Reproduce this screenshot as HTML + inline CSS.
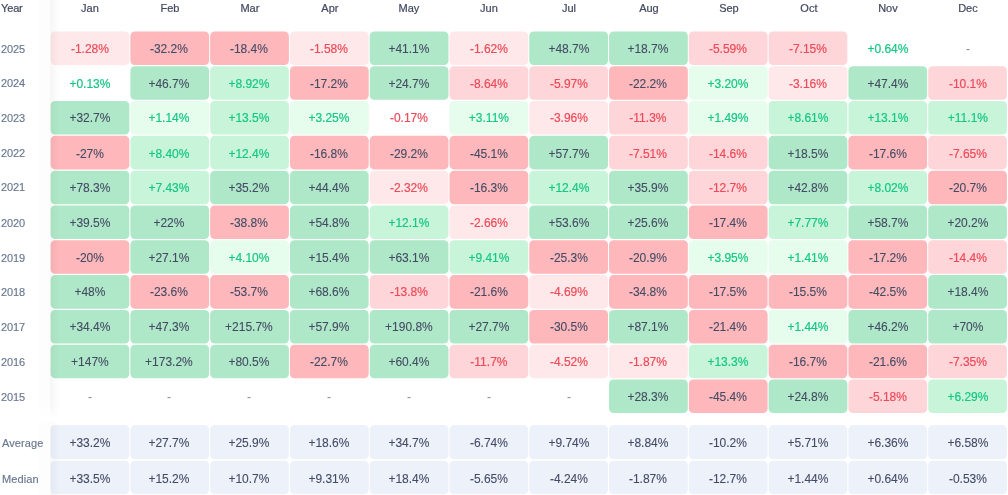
<!DOCTYPE html>
<html><head><meta charset="utf-8"><title>Monthly returns</title><style>
*{margin:0;padding:0;box-sizing:border-box}
html,body{width:1008px;height:495px;overflow:hidden;background:#fff}
body{position:relative;font-family:"Liberation Sans",sans-serif}
.bg{position:absolute;left:0;top:0;z-index:1}
.t{position:absolute;text-align:center;font-size:12px;line-height:14px;white-space:nowrap;will-change:transform;z-index:3}
.h{position:absolute;top:2px;font-size:11px;line-height:13px;color:#40475f;white-space:nowrap;will-change:transform;-webkit-text-stroke:0.2px #40475f;z-index:3}
.y{position:absolute;left:1.2px;letter-spacing:-0.15px;font-size:11px;line-height:13px;color:#67778f;white-space:nowrap;will-change:transform;-webkit-text-stroke:0.15px #67778f;z-index:3}
.tn{color:#7e869b}
.tg{color:#16c784;-webkit-text-stroke:0.2px #16c784}
.tr{color:#ec4b59;-webkit-text-stroke:0.2px #ec4b59}
.td{color:#434b63;-webkit-text-stroke:0.1px #434b63}
.g1{background:#e6fcec}
.g2{background:#c8f5da}
.g3{background:#afe8c8}
.r1{background:#fee8e9}
.r2{background:#fed5d8}
.r3{background:#feb7bb}
.a{background:#edf1fa}
.sh{position:absolute;left:50px;width:10px;z-index:2;background:linear-gradient(90deg,rgba(0,0,0,0.035) 0%,rgba(0,0,0,0.018) 40%,rgba(0,0,0,0.006) 75%,rgba(0,0,0,0) 100%)}
.sh2{position:absolute;left:39px;width:11px;z-index:2;background:rgba(0,0,0,0.006)}
</style></head><body>
<svg class="bg" width="1008" height="495" viewBox="0 0 1008 495"><rect x="50.60" y="31.40" width="78.75" height="33.60" rx="4.5" fill="#fee8e9"/><rect x="130.38" y="31.40" width="78.75" height="33.60" rx="4.5" fill="#feb7bb"/><rect x="210.16" y="31.40" width="78.75" height="33.60" rx="4.5" fill="#feb7bb"/><rect x="289.94" y="31.40" width="78.75" height="33.60" rx="4.5" fill="#fee8e9"/><rect x="369.72" y="31.40" width="78.75" height="33.60" rx="4.5" fill="#afe8c8"/><rect x="449.50" y="31.40" width="78.75" height="33.60" rx="4.5" fill="#fee8e9"/><rect x="529.28" y="31.40" width="78.75" height="33.60" rx="4.5" fill="#afe8c8"/><rect x="609.06" y="31.40" width="78.75" height="33.60" rx="4.5" fill="#afe8c8"/><rect x="688.84" y="31.40" width="78.75" height="33.60" rx="4.5" fill="#fed5d8"/><rect x="768.62" y="31.40" width="78.75" height="33.60" rx="4.5" fill="#fed5d8"/><rect x="130.38" y="66.21" width="78.75" height="33.60" rx="4.5" fill="#afe8c8"/><rect x="210.16" y="66.21" width="78.75" height="33.60" rx="4.5" fill="#c8f5da"/><rect x="289.94" y="66.21" width="78.75" height="33.60" rx="4.5" fill="#feb7bb"/><rect x="369.72" y="66.21" width="78.75" height="33.60" rx="4.5" fill="#afe8c8"/><rect x="449.50" y="66.21" width="78.75" height="33.60" rx="4.5" fill="#fed5d8"/><rect x="529.28" y="66.21" width="78.75" height="33.60" rx="4.5" fill="#fed5d8"/><rect x="609.06" y="66.21" width="78.75" height="33.60" rx="4.5" fill="#feb7bb"/><rect x="688.84" y="66.21" width="78.75" height="33.60" rx="4.5" fill="#e6fcec"/><rect x="768.62" y="66.21" width="78.75" height="33.60" rx="4.5" fill="#fee8e9"/><rect x="848.40" y="66.21" width="78.75" height="33.60" rx="4.5" fill="#afe8c8"/><rect x="928.18" y="66.21" width="78.75" height="33.60" rx="4.5" fill="#fed5d8"/><rect x="50.60" y="101.02" width="78.75" height="33.60" rx="4.5" fill="#afe8c8"/><rect x="130.38" y="101.02" width="78.75" height="33.60" rx="4.5" fill="#e6fcec"/><rect x="210.16" y="101.02" width="78.75" height="33.60" rx="4.5" fill="#c8f5da"/><rect x="289.94" y="101.02" width="78.75" height="33.60" rx="4.5" fill="#e6fcec"/><rect x="449.50" y="101.02" width="78.75" height="33.60" rx="4.5" fill="#e6fcec"/><rect x="529.28" y="101.02" width="78.75" height="33.60" rx="4.5" fill="#fee8e9"/><rect x="609.06" y="101.02" width="78.75" height="33.60" rx="4.5" fill="#fed5d8"/><rect x="688.84" y="101.02" width="78.75" height="33.60" rx="4.5" fill="#e6fcec"/><rect x="768.62" y="101.02" width="78.75" height="33.60" rx="4.5" fill="#c8f5da"/><rect x="848.40" y="101.02" width="78.75" height="33.60" rx="4.5" fill="#c8f5da"/><rect x="928.18" y="101.02" width="78.75" height="33.60" rx="4.5" fill="#c8f5da"/><rect x="50.60" y="135.83" width="78.75" height="33.60" rx="4.5" fill="#feb7bb"/><rect x="130.38" y="135.83" width="78.75" height="33.60" rx="4.5" fill="#c8f5da"/><rect x="210.16" y="135.83" width="78.75" height="33.60" rx="4.5" fill="#c8f5da"/><rect x="289.94" y="135.83" width="78.75" height="33.60" rx="4.5" fill="#feb7bb"/><rect x="369.72" y="135.83" width="78.75" height="33.60" rx="4.5" fill="#feb7bb"/><rect x="449.50" y="135.83" width="78.75" height="33.60" rx="4.5" fill="#feb7bb"/><rect x="529.28" y="135.83" width="78.75" height="33.60" rx="4.5" fill="#afe8c8"/><rect x="609.06" y="135.83" width="78.75" height="33.60" rx="4.5" fill="#fed5d8"/><rect x="688.84" y="135.83" width="78.75" height="33.60" rx="4.5" fill="#fed5d8"/><rect x="768.62" y="135.83" width="78.75" height="33.60" rx="4.5" fill="#afe8c8"/><rect x="848.40" y="135.83" width="78.75" height="33.60" rx="4.5" fill="#feb7bb"/><rect x="928.18" y="135.83" width="78.75" height="33.60" rx="4.5" fill="#fed5d8"/><rect x="50.60" y="170.64" width="78.75" height="33.60" rx="4.5" fill="#afe8c8"/><rect x="130.38" y="170.64" width="78.75" height="33.60" rx="4.5" fill="#c8f5da"/><rect x="210.16" y="170.64" width="78.75" height="33.60" rx="4.5" fill="#afe8c8"/><rect x="289.94" y="170.64" width="78.75" height="33.60" rx="4.5" fill="#afe8c8"/><rect x="369.72" y="170.64" width="78.75" height="33.60" rx="4.5" fill="#fee8e9"/><rect x="449.50" y="170.64" width="78.75" height="33.60" rx="4.5" fill="#feb7bb"/><rect x="529.28" y="170.64" width="78.75" height="33.60" rx="4.5" fill="#c8f5da"/><rect x="609.06" y="170.64" width="78.75" height="33.60" rx="4.5" fill="#afe8c8"/><rect x="688.84" y="170.64" width="78.75" height="33.60" rx="4.5" fill="#fed5d8"/><rect x="768.62" y="170.64" width="78.75" height="33.60" rx="4.5" fill="#afe8c8"/><rect x="848.40" y="170.64" width="78.75" height="33.60" rx="4.5" fill="#c8f5da"/><rect x="928.18" y="170.64" width="78.75" height="33.60" rx="4.5" fill="#feb7bb"/><rect x="50.60" y="205.45" width="78.75" height="33.60" rx="4.5" fill="#afe8c8"/><rect x="130.38" y="205.45" width="78.75" height="33.60" rx="4.5" fill="#afe8c8"/><rect x="210.16" y="205.45" width="78.75" height="33.60" rx="4.5" fill="#feb7bb"/><rect x="289.94" y="205.45" width="78.75" height="33.60" rx="4.5" fill="#afe8c8"/><rect x="369.72" y="205.45" width="78.75" height="33.60" rx="4.5" fill="#c8f5da"/><rect x="449.50" y="205.45" width="78.75" height="33.60" rx="4.5" fill="#fee8e9"/><rect x="529.28" y="205.45" width="78.75" height="33.60" rx="4.5" fill="#afe8c8"/><rect x="609.06" y="205.45" width="78.75" height="33.60" rx="4.5" fill="#afe8c8"/><rect x="688.84" y="205.45" width="78.75" height="33.60" rx="4.5" fill="#feb7bb"/><rect x="768.62" y="205.45" width="78.75" height="33.60" rx="4.5" fill="#c8f5da"/><rect x="848.40" y="205.45" width="78.75" height="33.60" rx="4.5" fill="#afe8c8"/><rect x="928.18" y="205.45" width="78.75" height="33.60" rx="4.5" fill="#afe8c8"/><rect x="50.60" y="240.26" width="78.75" height="33.60" rx="4.5" fill="#feb7bb"/><rect x="130.38" y="240.26" width="78.75" height="33.60" rx="4.5" fill="#afe8c8"/><rect x="210.16" y="240.26" width="78.75" height="33.60" rx="4.5" fill="#e6fcec"/><rect x="289.94" y="240.26" width="78.75" height="33.60" rx="4.5" fill="#afe8c8"/><rect x="369.72" y="240.26" width="78.75" height="33.60" rx="4.5" fill="#afe8c8"/><rect x="449.50" y="240.26" width="78.75" height="33.60" rx="4.5" fill="#c8f5da"/><rect x="529.28" y="240.26" width="78.75" height="33.60" rx="4.5" fill="#feb7bb"/><rect x="609.06" y="240.26" width="78.75" height="33.60" rx="4.5" fill="#feb7bb"/><rect x="688.84" y="240.26" width="78.75" height="33.60" rx="4.5" fill="#e6fcec"/><rect x="768.62" y="240.26" width="78.75" height="33.60" rx="4.5" fill="#e6fcec"/><rect x="848.40" y="240.26" width="78.75" height="33.60" rx="4.5" fill="#feb7bb"/><rect x="928.18" y="240.26" width="78.75" height="33.60" rx="4.5" fill="#fed5d8"/><rect x="50.60" y="275.07" width="78.75" height="33.60" rx="4.5" fill="#afe8c8"/><rect x="130.38" y="275.07" width="78.75" height="33.60" rx="4.5" fill="#feb7bb"/><rect x="210.16" y="275.07" width="78.75" height="33.60" rx="4.5" fill="#feb7bb"/><rect x="289.94" y="275.07" width="78.75" height="33.60" rx="4.5" fill="#afe8c8"/><rect x="369.72" y="275.07" width="78.75" height="33.60" rx="4.5" fill="#fed5d8"/><rect x="449.50" y="275.07" width="78.75" height="33.60" rx="4.5" fill="#feb7bb"/><rect x="529.28" y="275.07" width="78.75" height="33.60" rx="4.5" fill="#fee8e9"/><rect x="609.06" y="275.07" width="78.75" height="33.60" rx="4.5" fill="#feb7bb"/><rect x="688.84" y="275.07" width="78.75" height="33.60" rx="4.5" fill="#feb7bb"/><rect x="768.62" y="275.07" width="78.75" height="33.60" rx="4.5" fill="#feb7bb"/><rect x="848.40" y="275.07" width="78.75" height="33.60" rx="4.5" fill="#feb7bb"/><rect x="928.18" y="275.07" width="78.75" height="33.60" rx="4.5" fill="#afe8c8"/><rect x="50.60" y="309.88" width="78.75" height="33.60" rx="4.5" fill="#afe8c8"/><rect x="130.38" y="309.88" width="78.75" height="33.60" rx="4.5" fill="#afe8c8"/><rect x="210.16" y="309.88" width="78.75" height="33.60" rx="4.5" fill="#afe8c8"/><rect x="289.94" y="309.88" width="78.75" height="33.60" rx="4.5" fill="#afe8c8"/><rect x="369.72" y="309.88" width="78.75" height="33.60" rx="4.5" fill="#afe8c8"/><rect x="449.50" y="309.88" width="78.75" height="33.60" rx="4.5" fill="#afe8c8"/><rect x="529.28" y="309.88" width="78.75" height="33.60" rx="4.5" fill="#feb7bb"/><rect x="609.06" y="309.88" width="78.75" height="33.60" rx="4.5" fill="#afe8c8"/><rect x="688.84" y="309.88" width="78.75" height="33.60" rx="4.5" fill="#feb7bb"/><rect x="768.62" y="309.88" width="78.75" height="33.60" rx="4.5" fill="#e6fcec"/><rect x="848.40" y="309.88" width="78.75" height="33.60" rx="4.5" fill="#afe8c8"/><rect x="928.18" y="309.88" width="78.75" height="33.60" rx="4.5" fill="#afe8c8"/><rect x="50.60" y="344.69" width="78.75" height="33.60" rx="4.5" fill="#afe8c8"/><rect x="130.38" y="344.69" width="78.75" height="33.60" rx="4.5" fill="#afe8c8"/><rect x="210.16" y="344.69" width="78.75" height="33.60" rx="4.5" fill="#afe8c8"/><rect x="289.94" y="344.69" width="78.75" height="33.60" rx="4.5" fill="#feb7bb"/><rect x="369.72" y="344.69" width="78.75" height="33.60" rx="4.5" fill="#afe8c8"/><rect x="449.50" y="344.69" width="78.75" height="33.60" rx="4.5" fill="#fed5d8"/><rect x="529.28" y="344.69" width="78.75" height="33.60" rx="4.5" fill="#fee8e9"/><rect x="609.06" y="344.69" width="78.75" height="33.60" rx="4.5" fill="#fee8e9"/><rect x="688.84" y="344.69" width="78.75" height="33.60" rx="4.5" fill="#c8f5da"/><rect x="768.62" y="344.69" width="78.75" height="33.60" rx="4.5" fill="#feb7bb"/><rect x="848.40" y="344.69" width="78.75" height="33.60" rx="4.5" fill="#feb7bb"/><rect x="928.18" y="344.69" width="78.75" height="33.60" rx="4.5" fill="#fed5d8"/><rect x="609.06" y="379.50" width="78.75" height="33.60" rx="4.5" fill="#afe8c8"/><rect x="688.84" y="379.50" width="78.75" height="33.60" rx="4.5" fill="#feb7bb"/><rect x="768.62" y="379.50" width="78.75" height="33.60" rx="4.5" fill="#afe8c8"/><rect x="848.40" y="379.50" width="78.75" height="33.60" rx="4.5" fill="#fed5d8"/><rect x="928.18" y="379.50" width="78.75" height="33.60" rx="4.5" fill="#c8f5da"/><rect x="50.60" y="425.10" width="78.75" height="34.10" rx="4.5" fill="#edf1fa"/><rect x="130.38" y="425.10" width="78.75" height="34.10" rx="4.5" fill="#edf1fa"/><rect x="210.16" y="425.10" width="78.75" height="34.10" rx="4.5" fill="#edf1fa"/><rect x="289.94" y="425.10" width="78.75" height="34.10" rx="4.5" fill="#edf1fa"/><rect x="369.72" y="425.10" width="78.75" height="34.10" rx="4.5" fill="#edf1fa"/><rect x="449.50" y="425.10" width="78.75" height="34.10" rx="4.5" fill="#edf1fa"/><rect x="529.28" y="425.10" width="78.75" height="34.10" rx="4.5" fill="#edf1fa"/><rect x="609.06" y="425.10" width="78.75" height="34.10" rx="4.5" fill="#edf1fa"/><rect x="688.84" y="425.10" width="78.75" height="34.10" rx="4.5" fill="#edf1fa"/><rect x="768.62" y="425.10" width="78.75" height="34.10" rx="4.5" fill="#edf1fa"/><rect x="848.40" y="425.10" width="78.75" height="34.10" rx="4.5" fill="#edf1fa"/><rect x="928.18" y="425.10" width="78.75" height="34.10" rx="4.5" fill="#edf1fa"/><rect x="50.60" y="460.80" width="78.75" height="33.40" rx="4.5" fill="#edf1fa"/><rect x="130.38" y="460.80" width="78.75" height="33.40" rx="4.5" fill="#edf1fa"/><rect x="210.16" y="460.80" width="78.75" height="33.40" rx="4.5" fill="#edf1fa"/><rect x="289.94" y="460.80" width="78.75" height="33.40" rx="4.5" fill="#edf1fa"/><rect x="369.72" y="460.80" width="78.75" height="33.40" rx="4.5" fill="#edf1fa"/><rect x="449.50" y="460.80" width="78.75" height="33.40" rx="4.5" fill="#edf1fa"/><rect x="529.28" y="460.80" width="78.75" height="33.40" rx="4.5" fill="#edf1fa"/><rect x="609.06" y="460.80" width="78.75" height="33.40" rx="4.5" fill="#edf1fa"/><rect x="688.84" y="460.80" width="78.75" height="33.40" rx="4.5" fill="#edf1fa"/><rect x="768.62" y="460.80" width="78.75" height="33.40" rx="4.5" fill="#edf1fa"/><rect x="848.40" y="460.80" width="78.75" height="33.40" rx="4.5" fill="#edf1fa"/><rect x="928.18" y="460.80" width="78.75" height="33.40" rx="4.5" fill="#edf1fa"/></svg>
<div class="sh" style="top:0;height:419px;-webkit-mask-image:linear-gradient(to bottom,#000 0,#000 405px,transparent 419px);mask-image:linear-gradient(to bottom,#000 0,#000 405px,transparent 419px)"></div>
<div class="sh" style="top:419px;height:76px;-webkit-mask-image:linear-gradient(to bottom,transparent 0,#000 8px);mask-image:linear-gradient(to bottom,transparent 0,#000 8px)"></div>
<div class="sh2" style="top:0;height:419px;-webkit-mask-image:linear-gradient(to bottom,#000 0,#000 405px,transparent 419px);mask-image:linear-gradient(to bottom,#000 0,#000 405px,transparent 419px)"></div>
<div class="sh2" style="top:419px;height:76px;-webkit-mask-image:linear-gradient(to bottom,transparent 0,#000 8px);mask-image:linear-gradient(to bottom,transparent 0,#000 8px)"></div>
<div class="h" style="left:1.2px;letter-spacing:-0.15px">Year</div>
<div class="h" style="left:50.00px;width:79.83px;text-align:center">Jan</div>
<div class="h" style="left:129.83px;width:79.83px;text-align:center">Feb</div>
<div class="h" style="left:209.67px;width:79.83px;text-align:center">Mar</div>
<div class="h" style="left:289.50px;width:79.83px;text-align:center">Apr</div>
<div class="h" style="left:369.33px;width:79.83px;text-align:center">May</div>
<div class="h" style="left:449.17px;width:79.83px;text-align:center">Jun</div>
<div class="h" style="left:529.00px;width:79.83px;text-align:center">Jul</div>
<div class="h" style="left:608.83px;width:79.83px;text-align:center">Aug</div>
<div class="h" style="left:688.67px;width:79.83px;text-align:center">Sep</div>
<div class="h" style="left:768.50px;width:79.83px;text-align:center">Oct</div>
<div class="h" style="left:848.33px;width:79.83px;text-align:center">Nov</div>
<div class="h" style="left:928.17px;width:79.83px;text-align:center">Dec</div>
<div class="y" style="top:43px">2025</div>
<div class="t tr" style="left:49.60px;width:79.83px;top:42px">-1.28%</div>
<div class="t td" style="left:129.43px;width:79.83px;top:42px">-32.2%</div>
<div class="t td" style="left:209.27px;width:79.83px;top:42px">-18.4%</div>
<div class="t tr" style="left:289.10px;width:79.83px;top:42px">-1.58%</div>
<div class="t td" style="left:368.93px;width:79.83px;top:42px">+41.1%</div>
<div class="t tr" style="left:448.77px;width:79.83px;top:42px">-1.62%</div>
<div class="t td" style="left:528.60px;width:79.83px;top:42px">+48.7%</div>
<div class="t td" style="left:608.43px;width:79.83px;top:42px">+18.7%</div>
<div class="t tr" style="left:688.27px;width:79.83px;top:42px">-5.59%</div>
<div class="t tr" style="left:768.10px;width:79.83px;top:42px">-7.15%</div>
<div class="t tg" style="left:847.93px;width:79.83px;top:42px">+0.64%</div>
<div class="t tn" style="left:927.77px;width:79.83px;top:42px">-</div>
<div class="y" style="top:77px">2024</div>
<div class="t tg" style="left:49.60px;width:79.83px;top:77px">+0.13%</div>
<div class="t td" style="left:129.43px;width:79.83px;top:77px">+46.7%</div>
<div class="t tg" style="left:209.27px;width:79.83px;top:77px">+8.92%</div>
<div class="t td" style="left:289.10px;width:79.83px;top:77px">-17.2%</div>
<div class="t td" style="left:368.93px;width:79.83px;top:77px">+24.7%</div>
<div class="t tr" style="left:448.77px;width:79.83px;top:77px">-8.64%</div>
<div class="t tr" style="left:528.60px;width:79.83px;top:77px">-5.97%</div>
<div class="t td" style="left:608.43px;width:79.83px;top:77px">-22.2%</div>
<div class="t tg" style="left:688.27px;width:79.83px;top:77px">+3.20%</div>
<div class="t tr" style="left:768.10px;width:79.83px;top:77px">-3.16%</div>
<div class="t td" style="left:847.93px;width:79.83px;top:77px">+47.4%</div>
<div class="t tr" style="left:927.77px;width:79.83px;top:77px">-10.1%</div>
<div class="y" style="top:112px">2023</div>
<div class="t td" style="left:49.60px;width:79.83px;top:111px">+32.7%</div>
<div class="t tg" style="left:129.43px;width:79.83px;top:111px">+1.14%</div>
<div class="t tg" style="left:209.27px;width:79.83px;top:111px">+13.5%</div>
<div class="t tg" style="left:289.10px;width:79.83px;top:111px">+3.25%</div>
<div class="t tr" style="left:368.93px;width:79.83px;top:111px">-0.17%</div>
<div class="t tg" style="left:448.77px;width:79.83px;top:111px">+3.11%</div>
<div class="t tr" style="left:528.60px;width:79.83px;top:111px">-3.96%</div>
<div class="t tr" style="left:608.43px;width:79.83px;top:111px">-11.3%</div>
<div class="t tg" style="left:688.27px;width:79.83px;top:111px">+1.49%</div>
<div class="t tg" style="left:768.10px;width:79.83px;top:111px">+8.61%</div>
<div class="t tg" style="left:847.93px;width:79.83px;top:111px">+13.1%</div>
<div class="t tg" style="left:927.77px;width:79.83px;top:111px">+11.1%</div>
<div class="y" style="top:147px">2022</div>
<div class="t td" style="left:49.60px;width:79.83px;top:147px">-27%</div>
<div class="t tg" style="left:129.43px;width:79.83px;top:147px">+8.40%</div>
<div class="t tg" style="left:209.27px;width:79.83px;top:147px">+12.4%</div>
<div class="t td" style="left:289.10px;width:79.83px;top:147px">-16.8%</div>
<div class="t td" style="left:368.93px;width:79.83px;top:147px">-29.2%</div>
<div class="t td" style="left:448.77px;width:79.83px;top:147px">-45.1%</div>
<div class="t td" style="left:528.60px;width:79.83px;top:147px">+57.7%</div>
<div class="t tr" style="left:608.43px;width:79.83px;top:147px">-7.51%</div>
<div class="t tr" style="left:688.27px;width:79.83px;top:147px">-14.6%</div>
<div class="t td" style="left:768.10px;width:79.83px;top:147px">+18.5%</div>
<div class="t td" style="left:847.93px;width:79.83px;top:147px">-17.6%</div>
<div class="t tr" style="left:927.77px;width:79.83px;top:147px">-7.65%</div>
<div class="y" style="top:181px">2021</div>
<div class="t td" style="left:49.60px;width:79.83px;top:181px">+78.3%</div>
<div class="t tg" style="left:129.43px;width:79.83px;top:181px">+7.43%</div>
<div class="t td" style="left:209.27px;width:79.83px;top:181px">+35.2%</div>
<div class="t td" style="left:289.10px;width:79.83px;top:181px">+44.4%</div>
<div class="t tr" style="left:368.93px;width:79.83px;top:181px">-2.32%</div>
<div class="t td" style="left:448.77px;width:79.83px;top:181px">-16.3%</div>
<div class="t tg" style="left:528.60px;width:79.83px;top:181px">+12.4%</div>
<div class="t td" style="left:608.43px;width:79.83px;top:181px">+35.9%</div>
<div class="t tr" style="left:688.27px;width:79.83px;top:181px">-12.7%</div>
<div class="t td" style="left:768.10px;width:79.83px;top:181px">+42.8%</div>
<div class="t tg" style="left:847.93px;width:79.83px;top:181px">+8.02%</div>
<div class="t td" style="left:927.77px;width:79.83px;top:181px">-20.7%</div>
<div class="y" style="top:217px">2020</div>
<div class="t td" style="left:49.60px;width:79.83px;top:216px">+39.5%</div>
<div class="t td" style="left:129.43px;width:79.83px;top:216px">+22%</div>
<div class="t td" style="left:209.27px;width:79.83px;top:216px">-38.8%</div>
<div class="t td" style="left:289.10px;width:79.83px;top:216px">+54.8%</div>
<div class="t tg" style="left:368.93px;width:79.83px;top:216px">+12.1%</div>
<div class="t tr" style="left:448.77px;width:79.83px;top:216px">-2.66%</div>
<div class="t td" style="left:528.60px;width:79.83px;top:216px">+53.6%</div>
<div class="t td" style="left:608.43px;width:79.83px;top:216px">+25.6%</div>
<div class="t td" style="left:688.27px;width:79.83px;top:216px">-17.4%</div>
<div class="t tg" style="left:768.10px;width:79.83px;top:216px">+7.77%</div>
<div class="t td" style="left:847.93px;width:79.83px;top:216px">+58.7%</div>
<div class="t td" style="left:927.77px;width:79.83px;top:216px">+20.2%</div>
<div class="y" style="top:252px">2019</div>
<div class="t td" style="left:49.60px;width:79.83px;top:251px">-20%</div>
<div class="t td" style="left:129.43px;width:79.83px;top:251px">+27.1%</div>
<div class="t tg" style="left:209.27px;width:79.83px;top:251px">+4.10%</div>
<div class="t td" style="left:289.10px;width:79.83px;top:251px">+15.4%</div>
<div class="t td" style="left:368.93px;width:79.83px;top:251px">+63.1%</div>
<div class="t tg" style="left:448.77px;width:79.83px;top:251px">+9.41%</div>
<div class="t td" style="left:528.60px;width:79.83px;top:251px">-25.3%</div>
<div class="t td" style="left:608.43px;width:79.83px;top:251px">-20.9%</div>
<div class="t tg" style="left:688.27px;width:79.83px;top:251px">+3.95%</div>
<div class="t tg" style="left:768.10px;width:79.83px;top:251px">+1.41%</div>
<div class="t td" style="left:847.93px;width:79.83px;top:251px">-17.2%</div>
<div class="t tr" style="left:927.77px;width:79.83px;top:251px">-14.4%</div>
<div class="y" style="top:286px">2018</div>
<div class="t td" style="left:49.60px;width:79.83px;top:285px">+48%</div>
<div class="t td" style="left:129.43px;width:79.83px;top:285px">-23.6%</div>
<div class="t td" style="left:209.27px;width:79.83px;top:285px">-53.7%</div>
<div class="t td" style="left:289.10px;width:79.83px;top:285px">+68.6%</div>
<div class="t tr" style="left:368.93px;width:79.83px;top:285px">-13.8%</div>
<div class="t td" style="left:448.77px;width:79.83px;top:285px">-21.6%</div>
<div class="t tr" style="left:528.60px;width:79.83px;top:285px">-4.69%</div>
<div class="t td" style="left:608.43px;width:79.83px;top:285px">-34.8%</div>
<div class="t td" style="left:688.27px;width:79.83px;top:285px">-17.5%</div>
<div class="t td" style="left:768.10px;width:79.83px;top:285px">-15.5%</div>
<div class="t td" style="left:847.93px;width:79.83px;top:285px">-42.5%</div>
<div class="t td" style="left:927.77px;width:79.83px;top:285px">+18.4%</div>
<div class="y" style="top:321px">2017</div>
<div class="t td" style="left:49.60px;width:79.83px;top:320px">+34.4%</div>
<div class="t td" style="left:129.43px;width:79.83px;top:320px">+47.3%</div>
<div class="t td" style="left:209.27px;width:79.83px;top:320px">+215.7%</div>
<div class="t td" style="left:289.10px;width:79.83px;top:320px">+57.9%</div>
<div class="t td" style="left:368.93px;width:79.83px;top:320px">+190.8%</div>
<div class="t td" style="left:448.77px;width:79.83px;top:320px">+27.7%</div>
<div class="t td" style="left:528.60px;width:79.83px;top:320px">-30.5%</div>
<div class="t td" style="left:608.43px;width:79.83px;top:320px">+87.1%</div>
<div class="t td" style="left:688.27px;width:79.83px;top:320px">-21.4%</div>
<div class="t tg" style="left:768.10px;width:79.83px;top:320px">+1.44%</div>
<div class="t td" style="left:847.93px;width:79.83px;top:320px">+46.2%</div>
<div class="t td" style="left:927.77px;width:79.83px;top:320px">+70%</div>
<div class="y" style="top:356px">2016</div>
<div class="t td" style="left:49.60px;width:79.83px;top:355px">+147%</div>
<div class="t td" style="left:129.43px;width:79.83px;top:355px">+173.2%</div>
<div class="t td" style="left:209.27px;width:79.83px;top:355px">+80.5%</div>
<div class="t td" style="left:289.10px;width:79.83px;top:355px">-22.7%</div>
<div class="t td" style="left:368.93px;width:79.83px;top:355px">+60.4%</div>
<div class="t tr" style="left:448.77px;width:79.83px;top:355px">-11.7%</div>
<div class="t tr" style="left:528.60px;width:79.83px;top:355px">-4.52%</div>
<div class="t tr" style="left:608.43px;width:79.83px;top:355px">-1.87%</div>
<div class="t tg" style="left:688.27px;width:79.83px;top:355px">+13.3%</div>
<div class="t td" style="left:768.10px;width:79.83px;top:355px">-16.7%</div>
<div class="t td" style="left:847.93px;width:79.83px;top:355px">-21.6%</div>
<div class="t tr" style="left:927.77px;width:79.83px;top:355px">-7.35%</div>
<div class="y" style="top:391px">2015</div>
<div class="t tn" style="left:49.60px;width:79.83px;top:390px">-</div>
<div class="t tn" style="left:129.43px;width:79.83px;top:390px">-</div>
<div class="t tn" style="left:209.27px;width:79.83px;top:390px">-</div>
<div class="t tn" style="left:289.10px;width:79.83px;top:390px">-</div>
<div class="t tn" style="left:368.93px;width:79.83px;top:390px">-</div>
<div class="t tn" style="left:448.77px;width:79.83px;top:390px">-</div>
<div class="t tn" style="left:528.60px;width:79.83px;top:390px">-</div>
<div class="t td" style="left:608.43px;width:79.83px;top:390px">+28.3%</div>
<div class="t td" style="left:688.27px;width:79.83px;top:390px">-45.4%</div>
<div class="t td" style="left:768.10px;width:79.83px;top:390px">+24.8%</div>
<div class="t tr" style="left:847.93px;width:79.83px;top:390px">-5.18%</div>
<div class="t tg" style="left:927.77px;width:79.83px;top:390px">+6.29%</div>
<div class="y" style="top:437px;letter-spacing:0.1px;left:1.5px">Average</div>
<div class="t td" style="left:49.60px;width:79.83px;top:436px">+33.2%</div>
<div class="t td" style="left:129.43px;width:79.83px;top:436px">+27.7%</div>
<div class="t td" style="left:209.27px;width:79.83px;top:436px">+25.9%</div>
<div class="t td" style="left:289.10px;width:79.83px;top:436px">+18.6%</div>
<div class="t td" style="left:368.93px;width:79.83px;top:436px">+34.7%</div>
<div class="t td" style="left:448.77px;width:79.83px;top:436px">-6.74%</div>
<div class="t td" style="left:528.60px;width:79.83px;top:436px">+9.74%</div>
<div class="t td" style="left:608.43px;width:79.83px;top:436px">+8.84%</div>
<div class="t td" style="left:688.27px;width:79.83px;top:436px">-10.2%</div>
<div class="t td" style="left:768.10px;width:79.83px;top:436px">+5.71%</div>
<div class="t td" style="left:847.93px;width:79.83px;top:436px">+6.36%</div>
<div class="t td" style="left:927.77px;width:79.83px;top:436px">+6.58%</div>
<div class="y" style="top:473px;letter-spacing:0.1px;left:1.5px">Median</div>
<div class="t td" style="left:49.60px;width:79.83px;top:472px">+33.5%</div>
<div class="t td" style="left:129.43px;width:79.83px;top:472px">+15.2%</div>
<div class="t td" style="left:209.27px;width:79.83px;top:472px">+10.7%</div>
<div class="t td" style="left:289.10px;width:79.83px;top:472px">+9.31%</div>
<div class="t td" style="left:368.93px;width:79.83px;top:472px">+18.4%</div>
<div class="t td" style="left:448.77px;width:79.83px;top:472px">-5.65%</div>
<div class="t td" style="left:528.60px;width:79.83px;top:472px">-4.24%</div>
<div class="t td" style="left:608.43px;width:79.83px;top:472px">-1.87%</div>
<div class="t td" style="left:688.27px;width:79.83px;top:472px">-12.7%</div>
<div class="t td" style="left:768.10px;width:79.83px;top:472px">+1.44%</div>
<div class="t td" style="left:847.93px;width:79.83px;top:472px">+0.64%</div>
<div class="t td" style="left:927.77px;width:79.83px;top:472px">-0.53%</div>
</body></html>
